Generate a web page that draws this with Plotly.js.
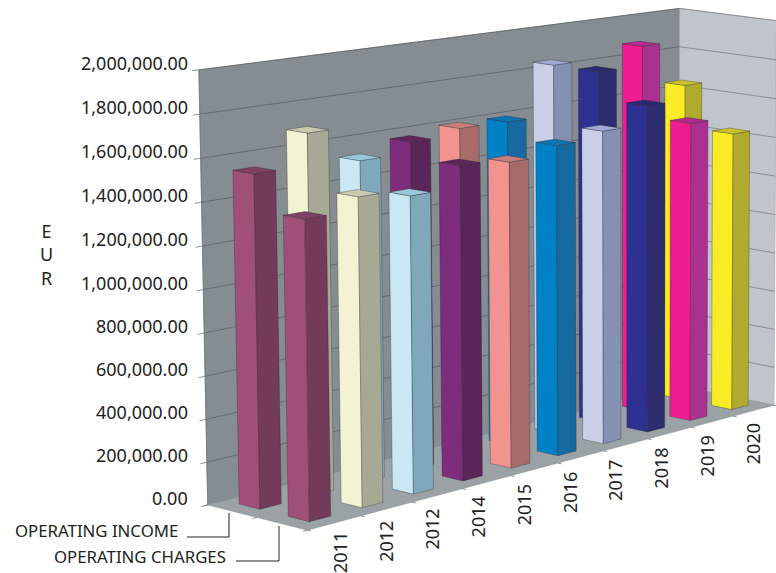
<!DOCTYPE html>
<html><head><meta charset="utf-8">
<script src="https://cdn.plot.ly/plotly-3.0.1.min.js"></script>
<style>html,body{margin:0;padding:0;background:#fff}#c{width:776px;height:573px}</style>
</head><body><div id="c"></div>
<script>
const categories = ["2011","2012","2012","2014","2015","2016","2017","2018","2019","2020"];
const operatingIncome  = [1545000,1693000,1527000,1577000,1605000,1600000,1845000,1780000,1877000,1645000];
const operatingCharges = [1381000,1440000,1403000,1503000,1481000,1523000,1556000,1645000,1522000,1432000];
const valueTicks = [0,200000,400000,600000,800000,1000000,1200000,1400000,1600000,1800000,2000000];
const valueMax = 2000000;

const faceColors  = ["#A05078","#F2F3D3","#C9E8F4","#7E2D7C","#F29390","#0080C6","#C9CFE8","#2E3191","#ED1C91","#F9EC25"];
const sideColors  = ["#733A59","#A7A995","#7FA9BA","#5A2558","#A76C69","#176AA0","#8591B0","#2C2D6E","#AB3090","#B0AB2E"];
const topColors   = ["#7E4063","#C9CAB0","#98C8DA","#5F2559","#C77F7C","#0A74B5","#9EAAD0","#28296E","#B02A90","#C9C22A"];

// camera calibration: box corners (X along years, D depth, Z value) -> page pixels
const calib = [
 [0,0,0,308,530],[1,0,0,773,406],[0,1,0,207,505],[1,1,0,680,385],
 [0,1,1,199,70],[1,1,1,679,9],[1,0,1,777,20]
];
function solveCamera(pts){
  const A=[],b=[];
  for(const [X,D,Z,x,y] of pts){
    A.push([1,X,D,Z,0,0,0,0,-x*X,-x*D,-x*Z]);b.push(x);
    A.push([0,0,0,0,1,X,D,Z,-y*X,-y*D,-y*Z]);b.push(y);
  }
  const n=11,M=[];
  for(let i=0;i<n;i++){M.push(new Array(n+1).fill(0));
    for(let j=0;j<n;j++)for(let k=0;k<A.length;k++)M[i][j]+=A[k][i]*A[k][j];
    for(let k=0;k<A.length;k++)M[i][n]+=A[k][i]*b[k];}
  for(let i=0;i<n;i++){let p=i;for(let r=i+1;r<n;r++)if(Math.abs(M[r][i])>Math.abs(M[p][i]))p=r;
    [M[i],M[p]]=[M[p],M[i]];
    for(let r=0;r<n;r++){if(r===i)continue;const f=M[r][i]/M[i][i];for(let c=i;c<=n;c++)M[r][c]-=f*M[i][c];}}
  return M.map((row,i)=>row[n]/row[i]);
}
const cam=solveCamera(calib);
function proj(X,D,Z){
  const w=1+cam[8]*X+cam[9]*D+cam[10]*Z;
  return [(cam[0]+cam[1]*X+cam[2]*D+cam[3]*Z)/w,(cam[4]+cam[5]*X+cam[6]*D+cam[7]*Z)/w];
}
const traces=[];
function poly(pts,fill,line,lw){
  const p=pts.map(q=>proj(q[0],q[1],q[2]));
  traces.push({type:"scatter",mode:"lines",x:p.map(q=>q[0]).concat(p[0][0]),y:p.map(q=>q[1]).concat(p[0][1]),
    fill:"toself",fillcolor:fill,line:{color:line,width:lw},hoverinfo:"skip"});
}
function seg(a,b,color,w){
  const p=proj(...a),q=proj(...b);
  traces.push({type:"scatter",mode:"lines",x:[p[0],q[0]],y:[p[1],q[1]],line:{color:color,width:w},hoverinfo:"skip"});
}
// walls and floor
poly([[0,1,0],[1,1,0],[1,1,1],[0,1,1]],"#868D92","#7a8085",0.5);
poly([[1,1,0],[1,0,0],[1,0,1],[1,1,1]],"#C0C4CB","#9a9ea5",0.5);
poly([[0,0,0],[1,0,0],[1,1,0],[0,1,0]],"#9AA2A6","#8a9296",0.5);
valueTicks.forEach(v=>{
  const z=v/valueMax;
  if(v>0){seg([0,1,z],[1,1,z],"#5c6266",0.8);seg([1,1,z],[1,0,z],"#7d8288",0.8);}
  seg([-0.012,1,z],[0,1,z],"#777",0.8);
});
seg([0,1,0],[0,1,1],"#6f7579",0.8);
const nCat=categories.length;
for(let i=0;i<=nCat;i++){seg([i/nCat,0,0],[i/nCat,-0.035,0],"#777",0.8);}
[0,0.5,1].forEach(d=>seg([0,d,0],[-0.008,d,0],"#777",0.8));

// bars
const barX0=0.32,barX1=0.72;
function bar(i,d0,d1,val){
  const x0=(i+barX0)/nCat,x1=(i+barX1)/nCat,z=val/valueMax,ln="rgba(40,40,40,0.45)";
  poly([[x0,d0,0],[x0,d1,0],[x0,d1,z],[x0,d0,z]],faceColors[i],ln,0.7);
  poly([[x0,d0,0],[x1,d0,0],[x1,d0,z],[x0,d0,z]],sideColors[i],ln,0.7);
  poly([[x0,d0,z],[x1,d0,z],[x1,d1,z],[x0,d1,z]],topColors[i],ln,0.7);
}
for(let i=nCat-1;i>=0;i--)bar(i,0.645,0.855,operatingIncome[i]);
for(let i=nCat-1;i>=0;i--)bar(i,0.15,0.36,operatingCharges[i]);

const font={family:"Noto Sans, sans-serif",size:18,color:"#222"};
const ann=[];
function fmt(v){return v.toLocaleString("en-US",{minimumFractionDigits:2,maximumFractionDigits:2});}
valueTicks.forEach(v=>{const p=proj(0,1,v/valueMax);
  ann.push({text:fmt(v),x:190,y:p[1]-7,xanchor:"right",yanchor:"middle",showarrow:false,font});});
categories.forEach((c,i)=>{
  ann.push({text:c,x:340+45.9*i,y:553-12.1*i,xanchor:"center",yanchor:"middle",textangle:-90,showarrow:false,font});});
ann.push({text:"E<br>U<br>R",x:46,y:254,xanchor:"center",yanchor:"middle",showarrow:false,font:{...font,size:18}});
ann.push({text:"OPERATING INCOME",x:180,y:530,xanchor:"right",yanchor:"middle",showarrow:false,font:{...font,size:16.8}});
ann.push({text:"OPERATING CHARGES",x:228,y:556,xanchor:"right",yanchor:"middle",showarrow:false,font:{...font,size:16.8}});
const sh=(x0,y0,x1,y1)=>({type:"line",x0,y0,x1,y1,xref:"x",yref:"y",line:{color:"#222",width:1}});
const shapes=[sh(187,537,229,537),sh(229,537,229,513),sh(236,561,279,561),sh(279,561,279,526)];

Plotly.newPlot("c",traces,{
  width:776,height:573,margin:{l:0,r:0,t:0,b:0},showlegend:false,
  paper_bgcolor:"#fff",plot_bgcolor:"#fff",
  xaxis:{visible:false,range:[0,776],fixedrange:true},
  yaxis:{visible:false,range:[573,0],fixedrange:true},
  annotations:ann,shapes
},{displayModeBar:false,staticPlot:true});
</script></body></html>
